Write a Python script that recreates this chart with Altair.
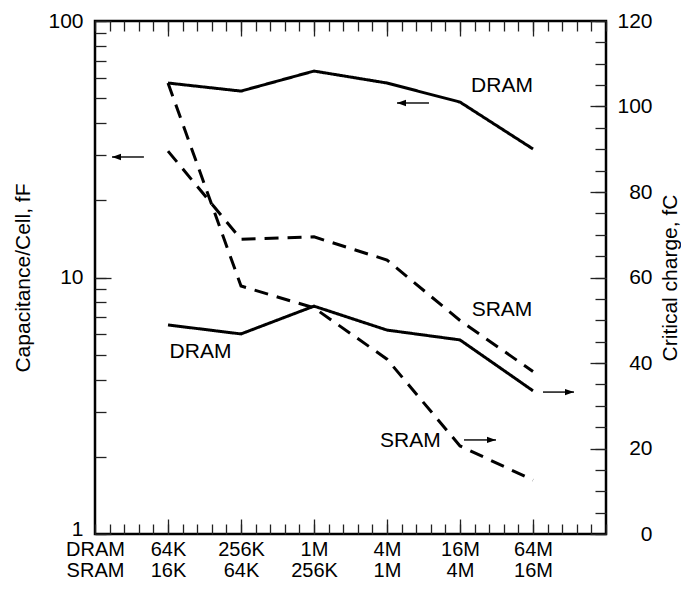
import altair as alt
import pandas as pd

# ---------------- data ----------------
row_titles = ["DRAM", "SRAM"]
dram_sizes = ["64K", "256K", "1M", "4M", "16M", "64M"]
sram_sizes = ["16K", "64K", "256K", "1M", "4M", "16M"]
gen_pos = [0, 1, 2, 3, 4, 5]

dram_cap = [57.3, 53.3, 63.8, 57.3, 48.3, 31.7]   # fF (left, log)
sram_cap = [31.1, 14.1, 14.4, 11.7, 6.8, 4.3]     # fF (left, log)
dram_chg = [48.9, 46.8, 53.3, 47.7, 45.4, 33.5]   # fC (right)
sram_chg = [105.5, 58.0, 52.9, 40.9, 20.6, 12.6]  # fC (right)

cap_ticks = [1, 2, 3, 4, 5, 6, 7, 8, 9, 10, 20, 30, 40, 50, 60, 70, 80, 90, 100]
cap_major = [1, 10, 100]
chg_ticks = list(range(0, 121, 5))
chg_major = list(range(0, 121, 20))
x_minor = [round(-1 + 0.2 * i, 1) for i in range(36)]
x_major = gen_pos

note_cap_x = [4.575]
note_cap_y = [55.8]
note_cap_text = ["DRAM"]
note_chg_x = [4.575, 0.445, 3.32]
note_chg_y = [52.4, 42.6, 21.8]
note_chg_text = ["SRAM", "DRAM", "SRAM"]

arrow_cap_tail = [-0.33, 3.575]
arrow_cap_tip = [-0.767, 3.137]
arrow_cap_y = [29.5, 47.9]
arrow_chg_tail = [5.137, 4.055]
arrow_chg_tip = [5.562, 4.493]
arrow_chg_y = [33.2, 22.0]

# ---------------- tables ----------------
cap_df = pd.DataFrame({
    "x": gen_pos * 2,
    "v": dram_cap + sram_cap,
    "series": ["DRAM"] * 6 + ["SRAM"] * 6,
})
chg_df = pd.DataFrame({
    "x": gen_pos * 2,
    "v": dram_chg + sram_chg,
    "series": ["DRAM"] * 6 + ["SRAM"] * 6,
})
note_cap_df = pd.DataFrame({"x": note_cap_x, "v": note_cap_y, "t": note_cap_text})
note_chg_df = pd.DataFrame({"x": note_chg_x, "v": note_chg_y, "t": note_chg_text})
arr_cap_df = pd.DataFrame({"tail": arrow_cap_tail, "tip": arrow_cap_tip, "v": arrow_cap_y})
arr_chg_df = pd.DataFrame({"tail": arrow_chg_tail, "tip": arrow_chg_tip, "v": arrow_chg_y})

FONT = "Liberation Sans"
FS = 21

xs = alt.Scale(domain=[-1, 6], nice=False, zero=False)
ys_cap = alt.Scale(type="log", domain=[1, 100], nice=False)
ys_chg = alt.Scale(domain=[0, 120], nice=False, zero=False)

pairs = [(-1, row_titles[0], row_titles[1])] + list(zip(gen_pos, dram_sizes, sram_sizes))
x_label_expr = "".join(
    f"datum.value == {p} ? ['{d}', '{s}'] : " for p, d, s in pairs
) + "''"

common = dict(domain=False, grid=False, tickColor="#222", tickWidth=1.3,
              labelFont=FONT, labelFontSize=FS, labelColor="black",
              labelFlush=False, labelOverlap=False, titleFont=FONT,
              titleFontSize=FS, titleFontWeight="normal", titleColor="black")
bottom_common = dict(common, labelFontSize=20)

dash = alt.StrokeDash("series:N",
                      scale=alt.Scale(domain=["DRAM", "SRAM"], range=[[1, 0], [14, 9]]),
                      legend=None)

cap_lines = alt.Chart(cap_df).mark_line(color="black", strokeWidth=3, strokeCap="butt").encode(
    x=alt.X("x:Q", scale=xs, axis=alt.Axis(
        orient="bottom", values=x_minor, tickSize=alt.ExprRef(expr="-10"),
        labelExpr=x_label_expr, labelPadding=15.5, labelLineHeight=21,
        labelAngle=0, labelBaseline="top", labelAlign="center", title=None,
        **bottom_common)),
    y=alt.Y("v:Q", scale=ys_cap, axis=alt.Axis(
        orient="left", values=cap_ticks, tickSize=alt.ExprRef(expr="-11"),
        labelExpr="datum.value == 1 || datum.value == 10 || datum.value == 100 ? datum.label : ''",
        labelOffset={"condition": {"test": "datum.value == 1", "value": -5}, "value": 0},
        labelPadding=23, title="Capacitance/Cell, fF", titlePadding=14, **common)),
    strokeDash=dash,
    detail="series:N",
)

chg_lines = alt.Chart(chg_df).mark_line(color="black", strokeWidth=3, strokeCap="butt").encode(
    x=alt.X("x:Q", scale=xs, axis=alt.Axis(
        orient="top", values=x_minor, tickSize=alt.ExprRef(expr="-10"),
        labels=False, title=None, **common)),
    y=alt.Y("v:Q", scale=ys_chg, axis=alt.Axis(
        orient="right", values=chg_ticks, tickSize=alt.ExprRef(expr="-11"),
        labelExpr="datum.value % 20 == 0 ? datum.label : ''",
        labelAlign="right", labelPadding=57,
        title="Critical charge, fC", titleAngle=270, titleBaseline="top",
        titlePadding=7, **common)),
    strokeDash=dash,
    detail="series:N",
)

cap_notes = alt.Chart(note_cap_df).mark_text(font=FONT, fontSize=FS, color="black",
                                             align="center", baseline="middle").encode(
    x=alt.X("x:Q", scale=xs, axis=alt.Axis(
        orient="bottom", values=x_major, tickSize=alt.ExprRef(expr="-15"),
        labels=False, title=None, **common)),
    y=alt.Y("v:Q", scale=ys_cap, axis=alt.Axis(
        orient="left", values=cap_major, tickSize=alt.ExprRef(expr="-16"),
        labels=False, title=None, **common)),
    text="t:N",
)

chg_notes = alt.Chart(note_chg_df).mark_text(font=FONT, fontSize=FS, color="black",
                                             align="center", baseline="middle").encode(
    x=alt.X("x:Q", scale=xs, axis=alt.Axis(
        orient="top", values=x_major, tickSize=alt.ExprRef(expr="-15"),
        labels=False, title=None, **common)),
    y=alt.Y("v:Q", scale=ys_chg, axis=alt.Axis(
        orient="right", values=chg_major, tickSize=alt.ExprRef(expr="-16"),
        labels=False, title=None, **common)),
    text="t:N",
)

LEFT_HEAD = "M 0 0 L 2 -0.7 L 2 0.7 Z"
RIGHT_HEAD = "M 0 0 L -2 -0.7 L -2 0.7 Z"

cap_shaft = alt.Chart(arr_cap_df).mark_rule(color="black", strokeWidth=1.4).encode(
    x=alt.X("tail:Q", scale=xs, axis=None), x2="tip:Q",
    y=alt.Y("v:Q", scale=ys_cap, axis=None))
cap_head = alt.Chart(arr_cap_df).mark_point(shape=LEFT_HEAD, filled=True, color="black",
                                            size=81, opacity=1, strokeWidth=0).encode(
    x=alt.X("tip:Q", scale=xs, axis=None),
    y=alt.Y("v:Q", scale=ys_cap, axis=None))
chg_shaft = alt.Chart(arr_chg_df).mark_rule(color="black", strokeWidth=1.4).encode(
    x=alt.X("tail:Q", scale=xs, axis=None), x2="tip:Q",
    y=alt.Y("v:Q", scale=ys_chg, axis=None))
chg_head = alt.Chart(arr_chg_df).mark_point(shape=RIGHT_HEAD, filled=True, color="black",
                                            size=81, opacity=1, strokeWidth=0).encode(
    x=alt.X("tip:Q", scale=xs, axis=None),
    y=alt.Y("v:Q", scale=ys_chg, axis=None))

chart = alt.layer(
    cap_lines, chg_lines, cap_notes, chg_notes,
    cap_shaft, cap_head, chg_shaft, chg_head,
).resolve_scale(x="independent", y="independent").properties(
    width=511, height=513,
    autosize=alt.AutoSizeParams(type="none"),
    padding={"left": 87, "top": 13, "right": 75, "bottom": 47},
).configure_view(stroke="black", strokeWidth=2.5)

chart.save("out.html", embed_options={"renderer": "svg", "actions": False})
